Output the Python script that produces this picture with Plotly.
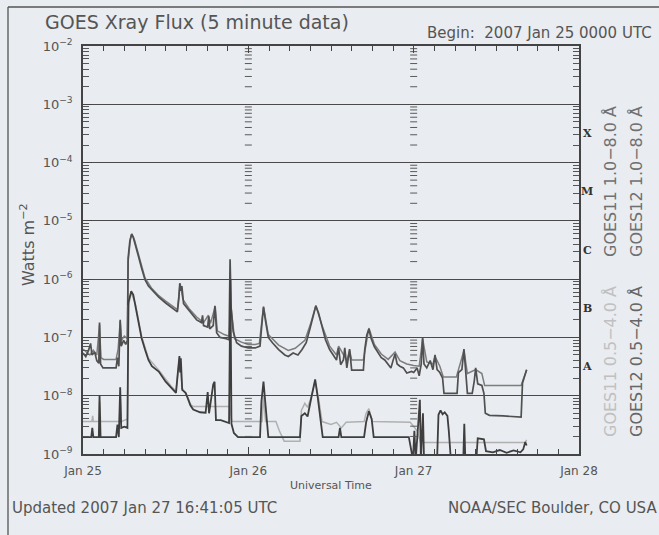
import pandas as pd
import plotly.graph_objects as go

# ---------------- data (hours since 2007-01-25 00:00 UTC, flux W m^-2) ----------------
t_g12_long = [0.0, 0.4, 0.8, 1.1, 1.3, 1.7, 2.0, 2.3, 2.4, 2.55, 2.9, 4.8, 5.0, 5.2, 5.4, 5.55, 5.9, 6.2, 6.45,
              6.55, 6.8, 7.05, 7.3, 7.6, 8.0, 8.5, 9.0, 9.5, 10.0, 11.0, 12.0, 13.0, 13.7, 13.9, 14.05, 14.2,
              14.35, 14.6, 15.0, 15.5, 16.5, 17.2, 17.35, 17.5, 18.1, 18.25, 18.4, 18.9, 19.15, 19.4, 19.9,
              20.8, 21.2, 21.35, 21.5, 21.8, 22.3, 23.0, 24.0, 25.0, 25.7, 25.95, 26.2, 26.5, 26.9, 27.5,
              28.4, 29.3, 29.8, 30.5, 31.2, 31.8, 32.4, 33.0, 33.5, 33.8, 34.2, 34.7, 35.2, 35.8, 36.3,
              36.8, 37.1, 37.4, 37.8, 38.0, 38.3, 38.7, 39.0, 40.7, 40.9, 41.2, 41.5, 41.8, 42.3, 42.8,
              43.3, 43.8, 44.3, 44.7, 45.0, 45.3, 45.6, 46.0, 46.5, 47.0, 47.7, 48.0, 48.5, 48.8, 49.1,
              49.3, 49.5, 49.9, 50.4, 50.8, 51.1, 51.4, 51.8, 52.2, 52.4, 54.3, 54.5, 55.0, 55.3, 55.6,
              55.8, 56.5, 56.8, 57.0, 57.3, 57.9, 58.2, 58.4, 59.0, 61.0, 63.6, 63.8, 64.2, 64.4]
f_g12_long = [5.4e-8, 4.7e-8, 6.0e-8, 7.9e-8, 5.0e-8, 5.6e-8, 4.0e-8, 3.6e-8, 1.8e-7, 3.5e-8, 3.0e-8, 3.0e-8,
              4.5e-8, 3.2e-8, 2.0e-7, 7.1e-8, 8.9e-8, 7.6e-8, 8.9e-8,
              2.3e-6, 4.5e-6, 5.9e-6, 5.2e-6, 4.0e-6, 2.6e-6, 1.55e-6, 9.8e-7, 7.6e-7, 6.5e-7, 4.9e-7,
              3.9e-7, 3.2e-7, 2.75e-7, 4.5e-7, 8.5e-7, 6.3e-7, 7.6e-7, 3.8e-7, 3.3e-7, 2.75e-7, 2.0e-7,
              1.8e-7, 2.4e-7, 1.6e-7, 1.5e-7, 2.3e-7, 1.4e-7, 1.6e-7, 3.5e-7, 1.2e-7, 1.0e-7, 9.5e-8,
              9.1e-8, 2.2e-6, 3.3e-7, 1.26e-7, 8.1e-8, 7.1e-8, 6.6e-8, 6.6e-8, 7.1e-8, 1.6e-7, 3.3e-7,
              1.9e-7, 1.0e-7, 8.1e-8, 6.2e-8, 5.0e-8, 4.7e-8, 5.4e-8, 5.0e-8, 6.2e-8, 8.1e-8, 1.5e-7,
              2.75e-7, 3.5e-7, 2.6e-7, 1.45e-7, 9.1e-8, 6.2e-8, 5.0e-8, 4.1e-8, 6.6e-8, 3.4e-8, 4.1e-8,
              6.6e-8, 3.0e-8, 6.3e-8, 2.75e-8, 2.75e-8, 6.2e-8, 1.1e-7, 1.4e-7, 9.8e-8, 6.9e-8, 5.6e-8,
              4.5e-8, 4.1e-8, 3.4e-8, 3.0e-8, 4.0e-8, 5.2e-8, 3.5e-8, 3.2e-8, 3.0e-8, 2.45e-8, 2.6e-8,
              2.5e-8, 3.0e-8, 2.2e-8, 3.5e-8, 1.0e-7, 3.5e-8, 3.0e-8, 4.0e-8, 2.8e-8, 5.0e-8, 2.8e-8,
              2.5e-8, 2.0e-8, 1.1e-8, 1.1e-8, 2.5e-8, 2.8e-8, 6.3e-8, 2.0e-8, 1.1e-8, 1.1e-8, 1.8e-8,
              3.0e-8, 1.6e-8, 1.5e-8, 1.1e-8, 5.0e-9, 4.6e-9, 4.5e-9, 4.3e-9, 1.66e-8, 2.4e-8, 2.8e-8]

t_g11_long = [0.0, 0.5, 1.0, 1.5, 2.0, 2.4, 2.6, 3.0, 4.8, 5.1, 5.4, 5.6, 6.0, 6.45, 6.55, 6.9, 7.1, 7.5, 8.0,
              8.5, 9.0, 10.0, 11.0, 12.0, 13.0, 13.7, 14.1, 14.5, 15.5, 16.5, 17.5, 18.2, 18.5, 19.2, 19.5,
              20.5, 21.2, 21.5, 22.0, 23.0, 24.0, 25.0, 25.6, 26.2, 26.9, 28.4, 29.8, 30.8, 32.2, 33.0,
              33.8, 34.7, 35.8, 36.8, 37.1, 37.8, 38.3, 38.7, 39.0, 40.7, 41.5, 42.3, 43.3, 44.3, 45.3,
              46.0, 47.0, 48.0, 48.8, 49.3, 49.9, 50.8, 51.1, 51.8, 52.3, 54.2, 54.6, 55.3, 55.8, 57.0,
              57.9, 58.3, 63.6, 64.0, 64.4]
f_g11_long = [6.3e-8, 5.6e-8, 5.0e-8, 6.0e-8, 5.0e-8, 1.66e-7, 4.5e-8, 4.2e-8, 4.2e-8, 6.3e-8, 1.9e-7, 8.9e-8,
              1.05e-7, 9.5e-8, 2.0e-6, 5.0e-6, 6.0e-6, 4.6e-6, 2.75e-6, 1.66e-6, 1.05e-6, 6.9e-7, 5.2e-7,
              4.2e-7, 3.5e-7, 3.0e-7, 8.5e-7, 4.5e-7, 3.0e-7, 2.24e-7, 1.8e-7, 2.4e-7, 1.74e-7, 3.4e-7,
              1.3e-7, 1.12e-7, 1.05e-7, 3.2e-7, 9.5e-8, 8.3e-8, 7.6e-8, 7.6e-8, 7.9e-8, 3.4e-7, 1.12e-7,
              7.4e-8, 6.0e-8, 6.5e-8, 8.9e-8, 1.66e-7, 3.5e-7, 1.6e-7, 7.1e-8, 5.0e-8, 7.1e-8, 5.0e-8,
              4.0e-8, 6.0e-8, 4.1e-8, 4.1e-8, 1.45e-7, 7.6e-8, 5.2e-8, 4.2e-8, 5.6e-8, 4.0e-8, 3.5e-8,
              3.3e-8, 3.2e-8, 9.5e-8, 3.8e-8, 3.5e-8, 4.7e-8, 3.2e-8, 2.1e-8, 2.1e-8, 3.2e-8, 6.0e-8,
              2.4e-8, 2.8e-8, 2.4e-8, 1.5e-8, 1.5e-8, 2.0e-8, 2.8e-8]

t_g12_short = [0.0, 1.2, 1.35, 1.5, 2.3, 2.4, 2.55, 4.8, 5.0, 5.2, 5.4, 5.55, 6.0, 6.45, 6.6, 6.85, 7.0, 7.3,
               7.6, 8.0, 8.5, 9.0, 9.5, 10.0, 11.0, 12.0, 12.8, 13.5, 13.8, 13.9, 14.0, 14.1, 14.2, 14.4,
               14.9, 15.2, 15.6, 16.0, 17.0, 17.8, 18.1, 18.3, 18.9, 19.1, 19.3, 20.0, 21.2, 21.4, 21.55,
               21.9, 22.5, 25.7, 25.9, 26.2, 26.5, 26.9, 31.5, 31.7, 32.2, 32.6, 33.2, 33.7, 34.1, 34.5,
               34.8, 37.1, 37.3, 37.5, 40.8, 41.1, 41.5, 41.9, 42.2, 47.3, 47.6, 47.9, 48.1, 48.3, 48.9,
               49.05, 49.35, 49.5, 51.4, 51.6, 51.9, 52.2, 52.5, 52.9, 53.1, 53.4, 55.2, 55.35, 55.5,
               57.1, 57.3, 58.2, 58.5, 59.5, 60.5, 61.5, 62.5, 63.5, 63.9, 64.2, 64.4]
f_g12_short = [1.95e-9, 1.95e-9, 2.8e-9, 1.95e-9, 1.95e-9, 1.02e-8, 1.95e-9, 1.95e-9, 3.2e-9, 1.95e-9, 1.4e-8,
               2.8e-9, 2.95e-9, 2.8e-9, 4.0e-7, 5.6e-7, 6.2e-7, 5.4e-7, 3.6e-7, 2.0e-7, 9.8e-8, 6.2e-8,
               4.1e-8, 3.2e-8, 2.6e-8, 1.74e-8, 1.35e-8, 1.12e-8, 2.75e-8, 4.1e-8, 4.8e-8, 2.5e-8, 4.4e-8,
               1.26e-8, 1.12e-8, 9.1e-9, 6.8e-9, 5.8e-9, 5.2e-9, 5.1e-9, 1.15e-8, 5.0e-9, 1.55e-8,
               1.74e-8, 3.8e-9, 3.8e-9, 3.4e-9, 1.0e-6, 3.3e-9, 2.3e-9, 1.95e-9, 1.95e-9, 7.9e-9, 1.74e-8,
               6.3e-9, 1.95e-9, 1.95e-9, 4.5e-9, 5.0e-9, 4.4e-9, 1.0e-8, 1.9e-8, 8.9e-9, 4.0e-9, 1.95e-9,
               1.95e-9, 2.8e-9, 1.95e-9, 1.95e-9, 3.5e-9, 5.4e-9, 4.0e-9, 1.95e-9, 1.95e-9, 1.26e-9,
               8e-10, 2.5e-9, 8e-10, 8.5e-9, 8e-10, 5.0e-9, 8e-10, 8e-10, 4.7e-9, 5.6e-9, 4.8e-9, 5.2e-9,
               4.5e-9, 2.5e-9, 8e-10, 8e-10, 3.3e-9, 8e-10, 8e-10, 1.86e-9, 1.78e-9, 1.12e-9, 1.07e-9,
               1.17e-9, 1.05e-9, 1.15e-9, 1.07e-9, 1.2e-9, 1.6e-9, 1.4e-9]

t_g11_short = [0.0, 1.3, 1.4, 1.5, 2.3, 2.4, 2.55, 5.3, 5.4, 5.55, 6.45, 6.6, 7.0, 7.6, 8.5, 9.5, 11.0, 12.8,
               13.5, 14.0, 14.4, 15.2, 15.6, 16.0, 21.3, 21.6, 26.0, 26.2, 26.5, 28.0, 28.5, 29.2, 31.5,
               31.7, 32.2, 32.6, 33.2, 33.7, 34.2, 34.7, 36.0, 36.8, 37.5, 38.2, 40.8, 41.1, 41.5, 42.0,
               47.5, 48.5, 49.0, 64.2, 64.4]
f_g11_short = [3.6e-9, 3.6e-9, 4.5e-9, 3.6e-9, 3.6e-9, 7.9e-9, 3.6e-9, 3.6e-9, 1.0e-8, 3.6e-9, 4.0e-9, 3.5e-7,
               5.9e-7, 3.8e-7, 1.05e-7, 4.4e-8, 2.75e-8, 1.45e-8, 1.2e-8, 4.5e-8, 1.35e-8, 9.5e-9, 7.1e-9,
               6.5e-9, 6.5e-9, 3.6e-9, 3.6e-9, 1.0e-8, 3.6e-9, 3.6e-9, 2.5e-9, 1.66e-9, 1.66e-9, 5.6e-9,
               7.4e-9, 6.3e-9, 1.0e-8, 1.8e-8, 8.9e-9, 3.6e-9, 3.2e-9, 3.5e-9, 2.8e-9, 3.5e-9, 3.6e-9,
               5.0e-9, 6.0e-9, 3.6e-9, 3.5e-9, 2.5e-9, 1.58e-9, 1.58e-9, 1.74e-9]

day_ticks = ["2007-01-25", "2007-01-26", "2007-01-27", "2007-01-28"]
day_labels = ["Jan 25", "Jan 26", "Jan 27", "Jan 28"]
decades = [1e-9, 1e-8, 1e-7, 1e-6, 1e-5, 1e-4, 1e-3, 1e-2]
decade_labels = ["10<sup>−9</sup>", "10<sup>−8</sup>", "10<sup>−7</sup>", "10<sup>−6</sup>",
                 "10<sup>−5</sup>", "10<sup>−4</sup>", "10<sup>−3</sup>", "10<sup>−2</sup>"]
flare_classes = ["A", "B", "C", "M", "X"]
flare_class_levels = [-7.5, -6.5, -5.5, -4.5, -3.5]

# ---------------- build ----------------
base = pd.Timestamp("2007-01-25")
def to_time(hours):
    return [base + pd.Timedelta(hours=h) for h in hours]

minor_vals = [k * d for d in decades[:-1] for k in range(2, 10)]

BG = "#e9ecf0"
fig = go.Figure()

series = [
    (t_g11_long, f_g11_long, "#7d7d7d", 1.5),
    (t_g12_long, f_g12_long, "#505050", 1.7),
    (t_g11_short, f_g11_short, "#b0b0b0", 1.5),
    (t_g12_short, f_g12_short, "#3e3e3e", 1.8),
]
for t, f, c, w in series:
    fig.add_trace(go.Scatter(x=to_time(t), y=f, mode="lines", line=dict(color=c, width=w),
                             hoverinfo="skip", showlegend=False))

# dotted tick columns at the interior day boundaries
for d in day_ticks[1:3]:
    fig.add_trace(go.Scatter(x=[pd.Timestamp(d)] * len(minor_vals), y=minor_vals, mode="markers",
                             marker=dict(symbol="line-ew", size=5, line=dict(width=1, color="#5a5a5a")),
                             hoverinfo="skip", showlegend=False))

fig.update_xaxes(type="date", range=[pd.Timestamp(day_ticks[0]), pd.Timestamp(day_ticks[-1])],
                 tickmode="array", tickvals=[pd.Timestamp(d) for d in day_ticks], ticktext=day_labels,
                 ticks="inside", ticklen=7, tickcolor="#444", tickwidth=1,
                 minor=dict(dtick=3 * 3600 * 1000, ticks="inside", ticklen=5, tickcolor="#444", showgrid=False),
                 showgrid=False, showline=True, linecolor="#444", linewidth=1.5, mirror="allticks",
                 tickfont=dict(family="DejaVu Sans", size=12, color="#555"), ticklabelstandoff=5,
                 zeroline=False)
fig.update_yaxes(type="log", range=[-9, -2], tickmode="array", tickvals=decades, ticktext=decade_labels,
                 ticks="inside", ticklen=9, tickcolor="#444",
                 minor=dict(tickmode="array", tickvals=minor_vals, ticks="inside", ticklen=6,
                            tickcolor="#555", showgrid=False),
                 showgrid=True, gridcolor="#4a4a4a", gridwidth=1.3,
                 showline=True, linecolor="#444", linewidth=1.5, mirror="allticks",
                 tickfont=dict(family="DejaVu Sans", size=13, color="#555"), ticklabelstandoff=6,
                 zeroline=False)

W, H = 659, 535
L, R, T, B = 83, 80, 46, 81
pw, ph = W - L - R, H - T - B
def px(x):
    return (x - L) / pw
def py(y):
    return (H - B - y) / ph

ann = []
def add(text, x, y, size, color="#555", xanchor="left", angle=0, family="DejaVu Sans", yref="paper"):
    ann.append(dict(text=text, x=x, y=y, xref="paper", yref=yref, showarrow=False, xanchor=xanchor,
                    yanchor="middle", textangle=angle, font=dict(family=family, size=size, color=color)))

add("GOES Xray Flux (5 minute data)", px(43), py(22), 19)
add("Begin:  2007 Jan 25 0000 UTC", px(425), py(33), 15)
add("Updated 2007 Jan 27 16:41:05 UTC", px(10), py(508), 15)
add("NOAA/SEC Boulder, CO USA", px(659), py(508), 15, xanchor="right")
add("Universal Time", 0.5, py(485), 11, xanchor="center")
add("Watts m<sup>−2</sup>", px(27), py(245), 16, xanchor="center", angle=-90)
for lab, lev in zip(flare_classes, flare_class_levels):
    add("<b>" + lab + "</b>", px(587), lev, 11, color="#333", xanchor="center", family="DejaVu Serif", yref="y")
add("GOES11 1.0−8.0 Å", px(610), py(182), 16, color="#707070", xanchor="center", angle=-90)
add("GOES12 1.0−8.0 Å", px(636), py(182), 16, color="#707070", xanchor="center", angle=-90)
add("GOES11 0.5−4.0 Å", px(610), py(362), 16, color="#c0c0c0", xanchor="center", angle=-90)
add("GOES12 0.5−4.0 Å", px(636), py(362), 16, color="#666666", xanchor="center", angle=-90)

shapes = [
    dict(type="line", xref="paper", yref="paper", x0=px(8), x1=px(8), y0=py(7), y1=py(540),
         line=dict(color="#555", width=1.3)),
    dict(type="line", xref="paper", yref="paper", x0=px(8), x1=px(665), y0=py(7), y1=py(7),
         line=dict(color="#555", width=1.3)),
]

fig.update_layout(width=W, height=H, margin=dict(l=L, r=R, t=T, b=B, pad=0),
                  paper_bgcolor=BG, plot_bgcolor=BG, annotations=ann, shapes=shapes,
                  showlegend=False)
fig.write_html("out.html", config={"displayModeBar": False},
               post_script="document.body.style.margin='0';document.body.style.overflow='hidden';"
                           "document.body.style.background='" + BG + "';")
